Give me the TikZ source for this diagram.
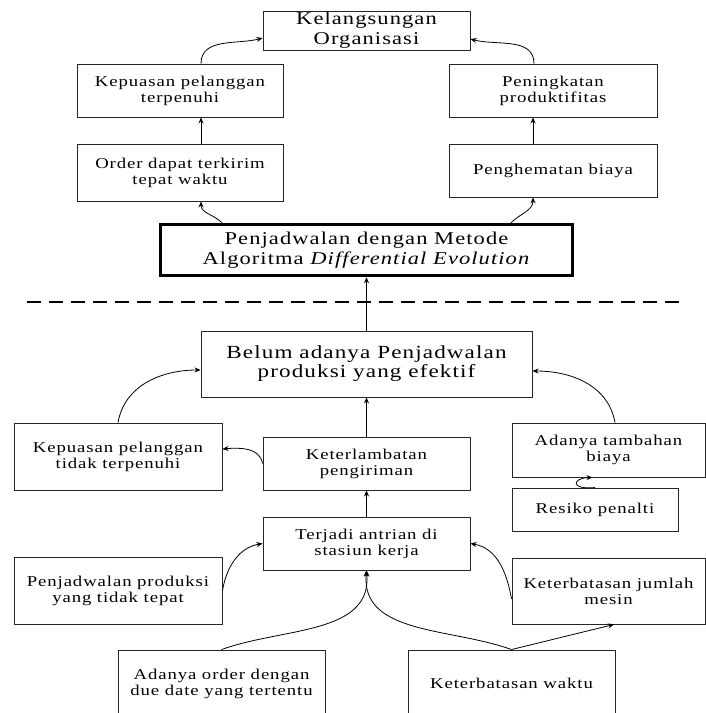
\documentclass[tikz,border=0pt]{standalone}
\usepackage{fontspec}
\setmainfont{Liberation Serif}[FakeStretch=1.25, LetterSpace=6]
\usetikzlibrary{arrows.meta,calc}
\begin{document}
\begin{tikzpicture}[x=1pt,y=-1pt,
  box/.style={draw=black!85, line width=0.9pt, align=center, inner sep=0pt,
    font=\fontsize{15}{16}\selectfont},
  arr/.style={-{Stealth[length=6pt,width=5pt]}, line width=0.8pt}]
\useasboundingbox (0,0) rectangle (706,713);
\clip (0,0) rectangle (706,713);
% top part
\node[box, minimum width=207pt, minimum height=39pt, font=\fontsize{18}{20}\selectfont] (kel) at (366.5,30.5) {Kelangsungan\\Organisasi};
\node[box, minimum width=206pt, minimum height=53pt] (kep1) at (180,90.5) {Kepuasan pelanggan\\terpenuhi};
\node[box, minimum width=208pt, minimum height=53pt] (prod) at (553,90.5) {Peningkatan\\produktifitas};
\node[box, minimum width=206pt, minimum height=57pt] (order) at (180,172.5) {Order dapat terkirim\\tepat waktu};
\node[box, minimum width=208pt, minimum height=53pt] (hemat) at (553,170.5) {Penghematan biaya};
\node[box, draw=black, line width=3.5pt, minimum width=412pt, minimum height=51pt, font=\fontsize{18}{20}\selectfont] (pen) at (366.5,250) {Penjadwalan dengan Metode\\Algoritma \textit{Differential Evolution}};
% separator
\coordinate (dl) at (27,302);
\coordinate (dr) at (681,302);
\draw[line width=1.8pt, dash pattern=on 14pt off 8pt] (dl) -- (dr);
% bottom part
\node[box, minimum width=331pt, minimum height=66pt, font=\fontsize{18.5}{19}\selectfont] (bel) at (366.5,364) {Belum adanya Penjadwalan\\produksi yang efektif};
\node[box, minimum width=208pt, minimum height=67pt] (kep2) at (118,456.5) {Kepuasan pelanggan\\tidak terpenuhi};
\node[box, minimum width=207pt, minimum height=53pt] (ket) at (366.5,463.5) {Keterlambatan\\pengiriman};
\node[box, minimum width=193pt, minimum height=54pt] (tamb) at (608.5,450) {Adanya tambahan\\biaya};
\node[box, minimum width=166pt, minimum height=43pt] (res) at (595,509.5) {Resiko penalti};
\node[box, minimum width=207pt, minimum height=53pt] (ter) at (366.5,543.5) {Terjadi antrian di\\stasiun kerja};
\node[box, minimum width=208pt, minimum height=67pt] (pjp) at (118,590.5) {Penjadwalan produksi\\yang tidak tepat};
\node[box, minimum width=193pt, minimum height=66pt] (jum) at (608.5,591) {Keterbatasan jumlah\\mesin};
\node[box, minimum width=207pt, minimum height=67pt] (ord) at (221.5,683.5) {Adanya order dengan\\due date yang tertentu};
\node[box, minimum width=207pt, minimum height=67pt] (wak) at (511.5,683.5) {Keterbatasan waktu};
% connectors top
\draw[arr] ([xshift=21pt]kep1.north) to[out=90,in=195] ([yshift=-7.5pt]kel.west);
\draw[arr] ([xshift=-19pt]prod.north) to[out=90,in=-15] ([yshift=-8.5pt]kel.east);
\draw[arr] ([xshift=21pt]order.north) -- ([xshift=21pt]kep1.south);
\draw[arr] ([xshift=-20pt]hemat.north) -- ([xshift=-20pt]prod.south);
\draw[arr] ([xshift=-144.5pt]pen.north) to[out=135,in=-90] ([xshift=21pt]order.south);
\draw[arr] ([xshift=144.5pt]pen.north) to[out=45,in=-90] ([xshift=-20pt]hemat.south);
\draw[arr] (bel.north) -- (pen.south);
% connectors bottom
\draw[arr] (ket.north) -- (bel.south);
\draw[arr] (kep2.north) to[out=80,in=180] ([yshift=-6pt]bel.west);
\draw[arr] ([xshift=6.5pt]tamb.north) to[out=100,in=0] ([yshift=-7pt]bel.east);
\draw[arr] (ket.west) to[out=100,in=5] ([yshift=7.5pt]kep2.east);
\draw[arr] (res.north) .. controls (570,490) and (572,478) .. ([xshift=-16pt]tamb.south);
\draw[arr] (ter.north) -- (ket.south);
\draw[arr] (pjp.east) to[out=80,in=190] (ter.west);
\draw[arr] ([yshift=-8pt]jum.west) to[out=100,in=-10] (ter.east);
\draw[arr] (ord.north) to[out=20,in=-85] (ter.south);
\draw[arr] (wak.north) to[out=160,in=-95] (ter.south);
\draw[arr] (wak.north) -- ([xshift=5.5pt]jum.south);
\end{tikzpicture}
\end{document}
